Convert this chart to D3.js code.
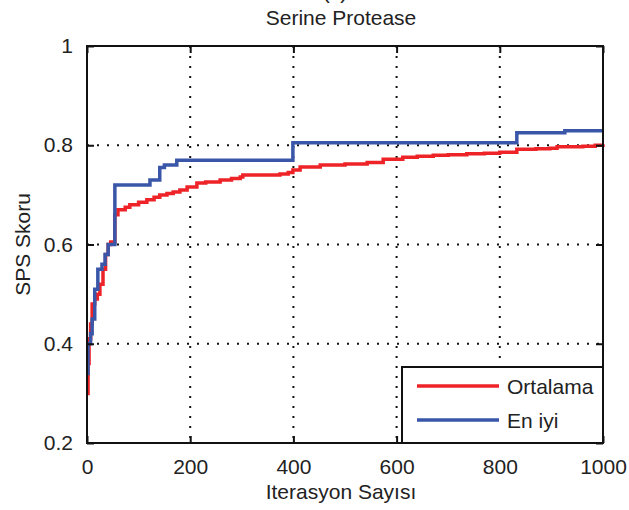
<!DOCTYPE html>
<html>
<head>
<meta charset="utf-8">
<script src="https://cdn.jsdelivr.net/npm/d3@7/dist/d3.min.js"></script>
<style>
  body { margin: 0; background: #fff; }
  text { font-family: "Liberation Sans", Arial, sans-serif; fill: #222; }
</style>
</head>
<body>
<div id="chart"></div>
<script>
// data
const xTicks = [0, 200, 400, 600, 800, 1000];
const yTicks = [0.2, 0.4, 0.6, 0.8, 1];
const yTickLabels = ["0.2", "0.4", "0.6", "0.8", "1"];
const seriesNames = ["Ortalama", "En iyi"];

const ortalama = [
  [0, 0.30], [2, 0.36], [4, 0.41], [7, 0.44], [10, 0.48], [15, 0.49], [20, 0.50],
  [25, 0.52], [31, 0.55], [36, 0.58], [41, 0.60], [46, 0.605], [54, 0.66], [60, 0.67],
  [74, 0.675], [83, 0.68], [100, 0.685], [116, 0.69], [130, 0.695], [141, 0.70],
  [155, 0.703], [167, 0.706], [180, 0.71], [194, 0.716], [213, 0.724], [230, 0.726],
  [258, 0.73], [280, 0.733], [297, 0.736], [302, 0.74], [374, 0.742], [390, 0.745],
  [399, 0.75], [413, 0.756], [452, 0.76], [500, 0.762], [543, 0.765], [574, 0.772],
  [612, 0.776], [640, 0.778], [671, 0.78], [700, 0.781], [736, 0.783], [770, 0.784],
  [800, 0.786], [833, 0.792], [870, 0.793], [897, 0.794], [911, 0.797], [961, 0.798],
  [985, 0.80], [1000, 0.802]
];

const enIyi = [
  [0, 0.34], [2, 0.40], [7, 0.42], [10, 0.45], [15, 0.51], [21, 0.55], [29, 0.56],
  [35, 0.58], [41, 0.60], [54, 0.72], [122, 0.73], [141, 0.755], [150, 0.76],
  [174, 0.77], [399, 0.805], [833, 0.825], [926, 0.829], [1000, 0.829]
];

const width = 629, height = 510;
const plotLeft = 87, plotRight = 603, plotTop = 46, plotBottom = 443;

const svg = d3.select("#chart").append("svg")
  .attr("width", width)
  .attr("height", height);

const x = d3.scaleLinear().domain([0, 1000]).range([plotLeft, plotRight]);
const y = d3.scaleLinear().domain([0.2, 1]).range([plotBottom, plotTop]);

// dotted grid
svg.append("g").selectAll("line")
  .data(xTicks.slice(1, -1))
  .enter().append("line")
  .attr("x1", d => x(d)).attr("x2", d => x(d))
  .attr("y1", plotTop).attr("y2", plotBottom)
  .attr("stroke", "#111").attr("stroke-width", 2)
  .attr("stroke-dasharray", "2,8");

svg.append("g").selectAll("line")
  .data(yTicks.slice(1, -1))
  .enter().append("line")
  .attr("y1", d => y(d)).attr("y2", d => y(d))
  .attr("x1", plotLeft).attr("x2", plotRight)
  .attr("stroke", "#111").attr("stroke-width", 2)
  .attr("stroke-dasharray", "2,8");

// lines
const line = d3.line()
  .x(d => x(d[0]))
  .y(d => y(d[1]))
  .curve(d3.curveStepAfter);

svg.append("path").datum(ortalama)
  .attr("d", line)
  .attr("fill", "none")
  .attr("stroke", "#ee2328")
  .attr("stroke-width", 3.5);

svg.append("path").datum(enIyi)
  .attr("d", line)
  .attr("fill", "none")
  .attr("stroke", "#3a56a8")
  .attr("stroke-width", 3.5);

// axes, ticks pointing inwards
const fontSize = "21px";

const xAxis = svg.append("g")
  .attr("transform", `translate(0,${plotBottom})`)
  .call(d3.axisBottom(x).tickValues(xTicks).tickSize(-7).tickPadding(16)
    .tickFormat(d3.format("d")));

const xAxisTop = svg.append("g")
  .attr("transform", `translate(0,${plotTop})`)
  .call(d3.axisTop(x).tickValues(xTicks).tickSize(-7).tickFormat(""));

const yAxis = svg.append("g")
  .attr("transform", `translate(${plotLeft},0)`)
  .call(d3.axisLeft(y).tickValues(yTicks).tickSize(-7).tickPadding(14)
    .tickFormat((d, i) => yTickLabels[i]));

const yAxisRight = svg.append("g")
  .attr("transform", `translate(${plotRight},0)`)
  .call(d3.axisRight(y).tickValues(yTicks).tickSize(-7).tickFormat(""));

[xAxis, xAxisTop, yAxis, yAxisRight].forEach(g => {
  g.select(".domain").remove();
  g.selectAll(".tick line").attr("stroke", "#111").attr("stroke-width", 2);
  g.selectAll(".tick text")
    .style("font-size", fontSize)
    .style("font-family", "'Liberation Sans', Arial, sans-serif")
    .attr("fill", "#222");
});

// box
svg.append("rect")
  .attr("x", plotLeft).attr("y", plotTop)
  .attr("width", plotRight - plotLeft).attr("height", plotBottom - plotTop)
  .attr("fill", "none")
  .attr("stroke", "#111")
  .attr("stroke-width", 2);

// legend
const legend = svg.append("g");
legend.append("rect")
  .attr("x", 402).attr("y", 367)
  .attr("width", plotRight - 402).attr("height", plotBottom - 367)
  .attr("fill", "#fff")
  .attr("stroke", "#111")
  .attr("stroke-width", 2);

const legendColors = ["#ee2328", "#3a56a8"];
seriesNames.forEach((name, i) => {
  const ly = 386 + i * 34;
  legend.append("line")
    .attr("x1", 417).attr("x2", 499)
    .attr("y1", ly).attr("y2", ly)
    .attr("stroke", legendColors[i])
    .attr("stroke-width", 3.5);
  legend.append("text")
    .attr("x", 507).attr("y", ly + 8)
    .style("font-size", fontSize)
    .text(name);
});

// titles (the panel letter is cut by the top edge in the original)
svg.append("text")
  .attr("x", 335).attr("y", -1)
  .attr("text-anchor", "middle")
  .style("font-size", fontSize)
  .text("(c)");

svg.append("text")
  .attr("x", 341).attr("y", 25)
  .attr("text-anchor", "middle")
  .style("font-size", fontSize)
  .text("Serine Protease");

svg.append("text")
  .attr("x", 341).attr("y", 499)
  .attr("text-anchor", "middle")
  .style("font-size", fontSize)
  .text("Iterasyon Sayısı");

svg.append("text")
  .attr("transform", `translate(30,${(plotTop + plotBottom) / 2}) rotate(-90)`)
  .attr("text-anchor", "middle")
  .style("font-size", fontSize)
  .text("SPS Skoru");
</script>
</body>
</html>
